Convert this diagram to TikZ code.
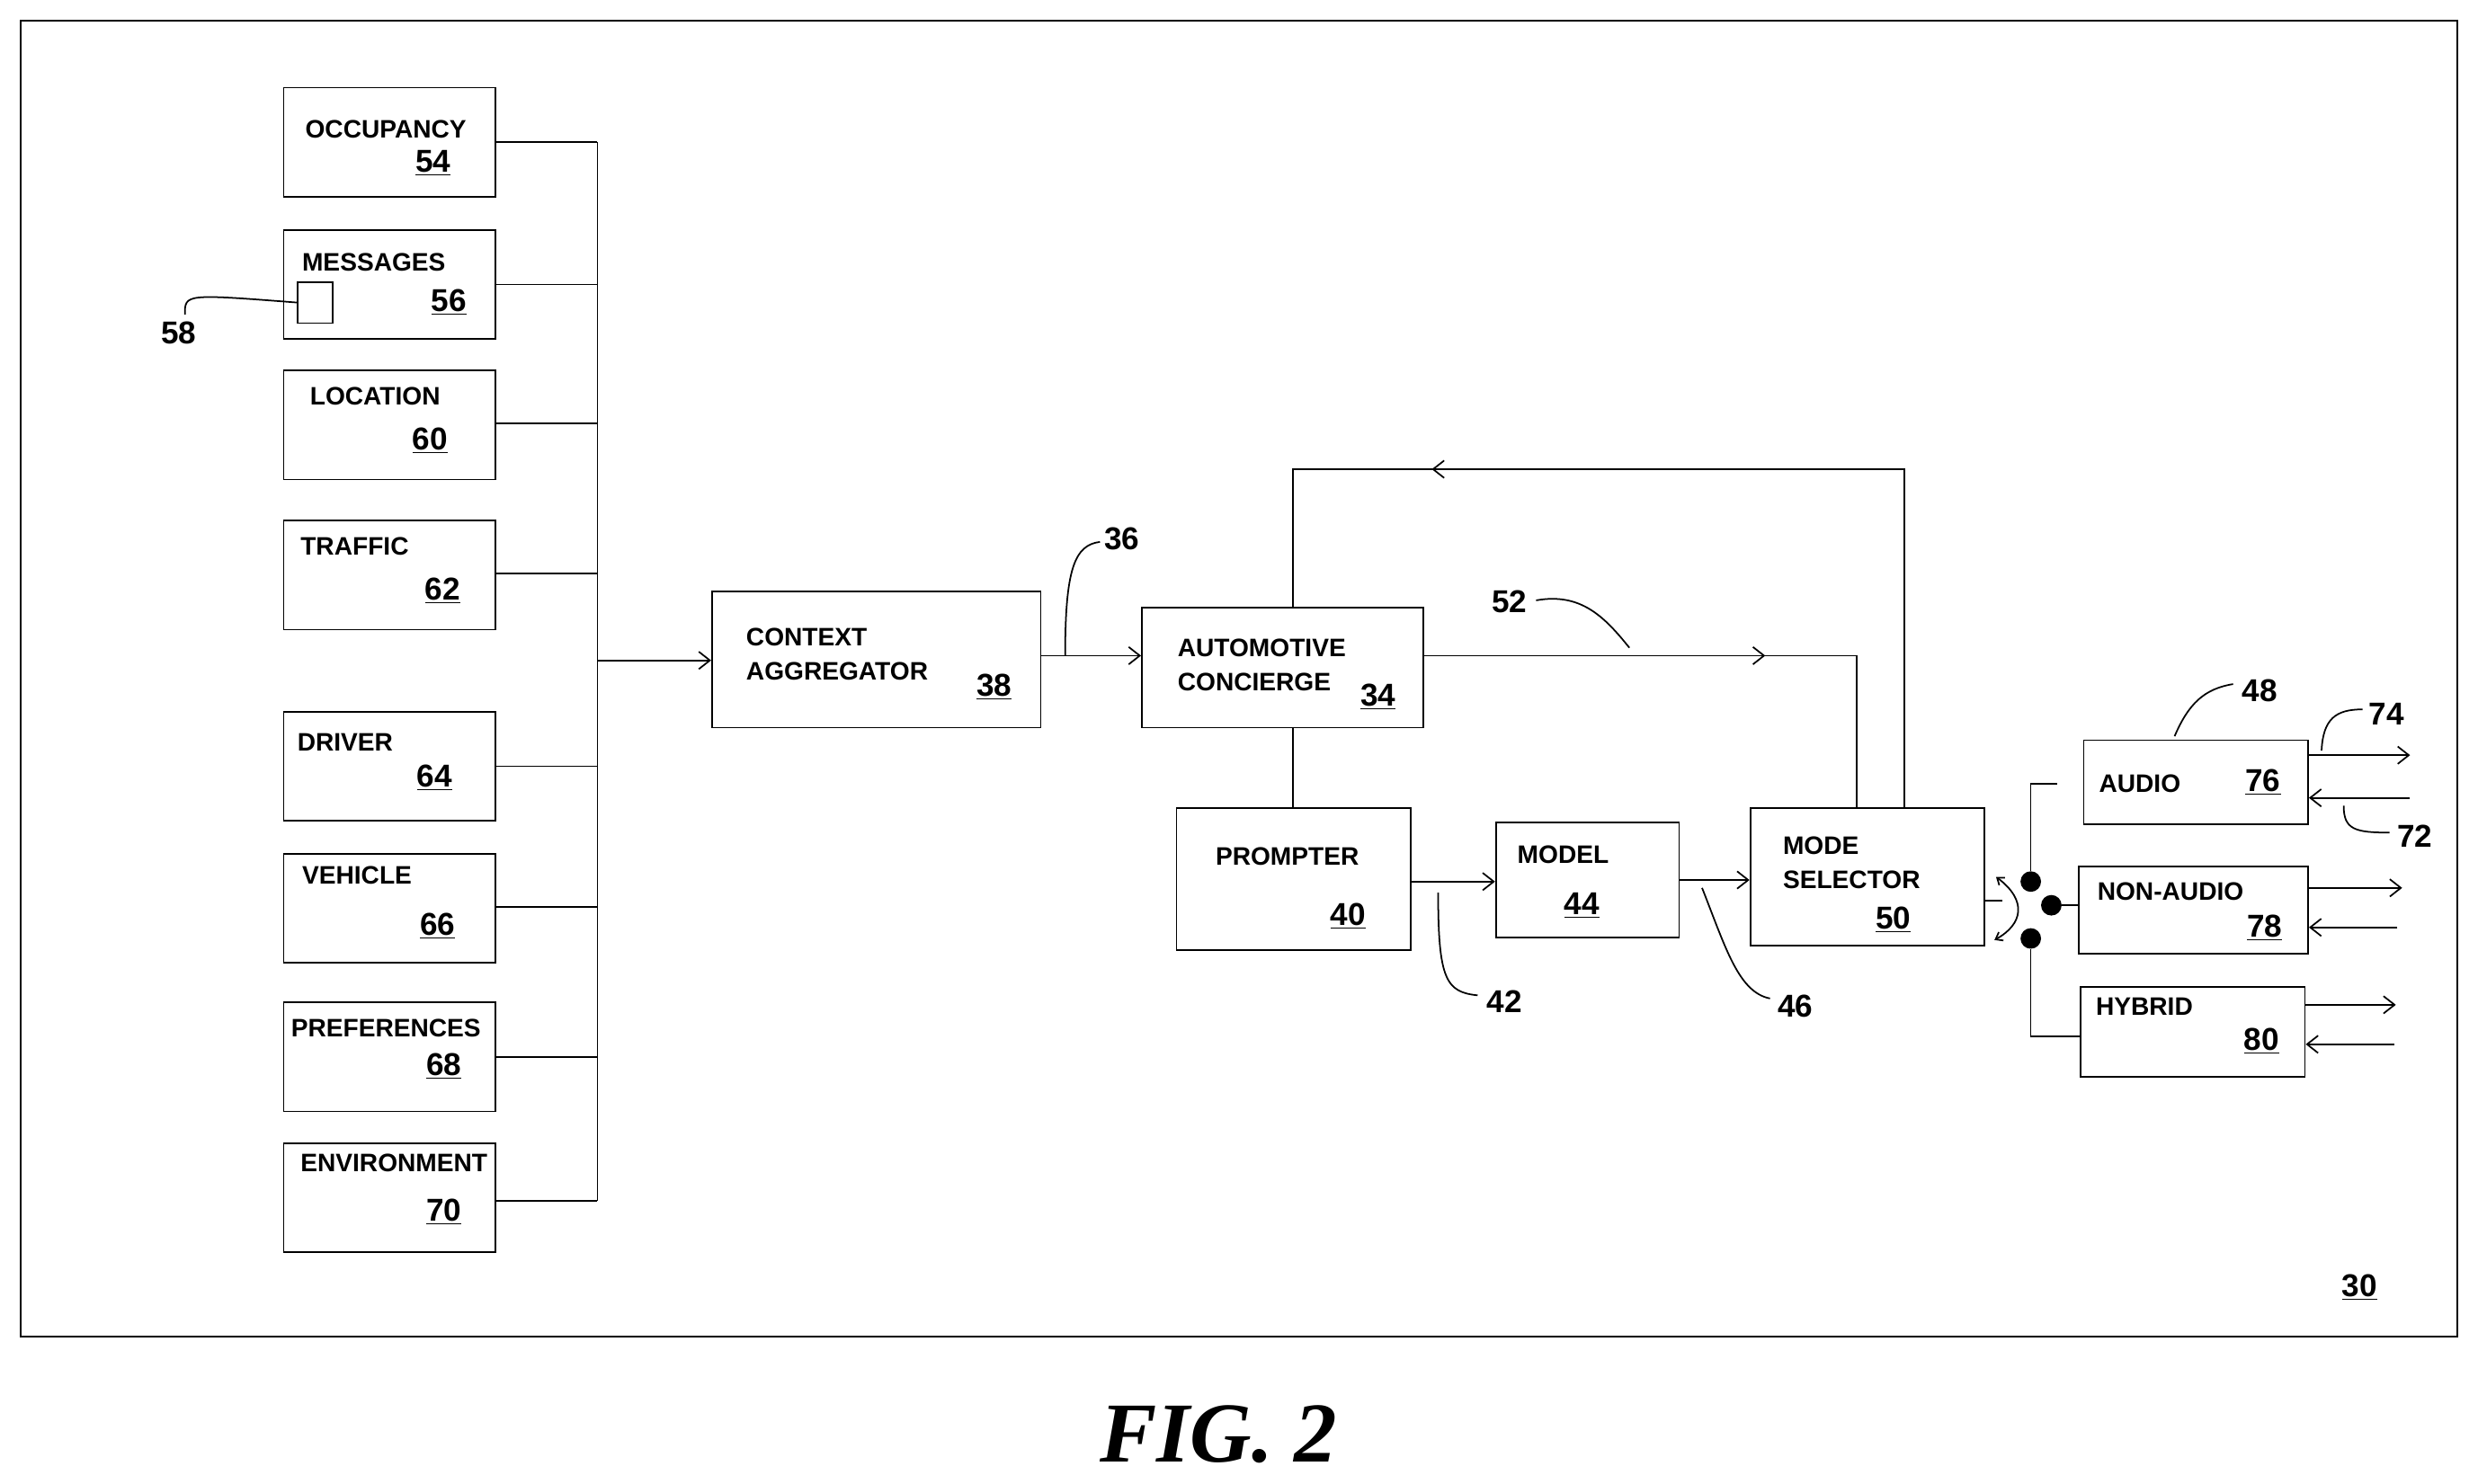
\documentclass[tikz,border=0pt]{standalone}
\usepackage{fontspec}
\setmainfont{Liberation Sans}
\newfontfamily\figfont{Liberation Serif}
\usetikzlibrary{arrows.meta}
\begin{document}
\begin{tikzpicture}[x=1pt,y=-1pt,
  box/.style={draw,line width=1pt},
  lbl/.style={anchor=west,inner sep=0,font=\fontsize{16}{18}\selectfont\bfseries},
  num/.style={inner sep=0,font=\fontsize{20}{22}\selectfont\bfseries},
  ref/.style={inner sep=0,font=\fontsize{20}{22}\selectfont\bfseries},
  ln/.style={line width=1pt},
  ar/.style={ln,-{Straight Barb[length=7pt,width=11pt]}},
  dot/.style={circle,fill,inner sep=0,minimum size=13pt}]
\useasboundingbox (0,0) rectangle (1568,939.3);
\draw[line width=1.2pt] (13,13) rectangle (1555,846);
\newcommand{\blk}[5]{\node[box,minimum width=134pt,minimum height=69pt,anchor=north west] (#1) at (179,#2) {};
 \node[lbl] at (#3,#4) {#5};}
\blk{occ}{55}{193}{82}{OCCUPANCY}
\blk{msg}{145}{191}{166}{MESSAGES}
\blk{loc}{234}{196}{251}{LOCATION}
\blk{tra}{329}{190}{346}{TRAFFIC}
\blk{dri}{450}{188}{470}{DRIVER}
\blk{veh}{540}{191}{554}{VEHICLE}
\blk{pre}{634}{184}{651}{PREFERENCES}
\blk{env}{723}{190}{736}{ENVIRONMENT}
\node[num] at (274,103) {\underline{54}};
\node[num] at (284,191) {\underline{56}};
\node[num] at (272,279) {\underline{60}};
\node[num] at (280,374) {\underline{62}};
\node[num] at (275,492) {\underline{64}};
\node[num] at (277,586) {\underline{66}};
\node[num] at (281,675) {\underline{68}};
\node[num] at (281,767) {\underline{70}};
\node[box,minimum width=22pt,minimum height=26pt,anchor=north west,inner sep=0] (sq) at (188,178) {};
\node[ref] (r58) at (113,211) {58};
\draw[ln] (117,199) .. controls (117,186) .. (sq.west);
% bus
\coordinate (bt) at (378,90); \coordinate (bb) at (378,760);
\draw[ln] (bt) -- (bb);
\foreach \n/\y in {occ/90,msg/180,loc/268,tra/363,dri/485,veh/574,pre/669,env/760}
  \draw[ln] (\n.east |- 0,\y) -- (378,\y);
% context aggregator
\node[box,minimum width=208pt,minimum height=86pt,anchor=north west] (ca) at (450,374) {};
\node[lbl] at (472,403) {CONTEXT};
\node[lbl] at (472,425) {AGGREGATOR};
\node[num] at (629,435) {\underline{38}};
\draw[ar] (378,418) -- (ca.west |- 0,418);
% concierge
\node[box,minimum width=178pt,minimum height=76pt,anchor=north west] (ac) at (722,384) {};
\node[lbl] at (745,410) {AUTOMOTIVE};
\node[lbl] at (745,432) {CONCIERGE};
\node[num] at (872,441) {\underline{34}};
\draw[ar] (ca.east |- 0,415) -- (ac.west |- 0,415);
\node[ref] at (710,341) {36};
\draw[ln] (674,415) .. controls (674,360) and (680,345) .. (696,343);
% prompter
\node[box,minimum width=148pt,minimum height=90pt,anchor=north west] (pr) at (744,511) {};
\node[lbl] at (769,542) {PROMPTER};
\node[num] at (853,580) {\underline{40}};
\draw[ln] (818,460) -- (818,511);
% model
\node[box,minimum width=116pt,minimum height=73pt,anchor=north west] (mo) at (946,520) {};
\node[lbl] at (960,541) {MODEL};
\node[num] at (1001,573) {\underline{44}};
\draw[ar] (pr.east |- 0,558) -- (mo.west |- 0,558);
\node[ref] at (952,634) {42};
\draw[ln] (910,565) .. controls (910,620) and (915,628) .. (935,630);
% mode selector
\node[box,minimum width=148pt,minimum height=87pt,anchor=north west] (ms) at (1107,511) {};
\node[lbl] at (1128,535) {MODE};
\node[lbl] at (1128,557) {SELECTOR};
\node[num] at (1198,582) {\underline{50}};
\draw[ar] (mo.east |- 0,557) -- (ms.west |- 0,557);
\node[ref] at (1136,637) {46};
\draw[ln] (1077,562) .. controls (1092,600) and (1100,628) .. (1120,632);
% feedback
\draw[ln] (1205,511) -- (1205,297) -- (818,297) -- (818,384);
\draw[ln,-{Straight Barb[length=7pt,width=11pt]}] (920,297) -- (906,297);
\draw[ln] (900,415) -- (1175,415) -- (1175,511);
\draw[ln,-{Straight Barb[length=7pt,width=11pt]}] (1100,415) -- (1117,415);
\node[ref] at (955,381) {52};
\draw[ln] (972,380) .. controls (1000,375) and (1015,390) .. (1031,410);
% outputs
\node[box,minimum width=142pt,minimum height=53pt,anchor=north west] (au) at (1318,468) {};
\node[lbl] at (1328,496) {AUDIO};
\node[num] at (1432,495) {\underline{76}};
\node[box,minimum width=145pt,minimum height=55pt,anchor=north west] (na) at (1315,548) {};
\node[lbl] at (1327,564) {NON-AUDIO};
\node[num] at (1433,587) {\underline{78}};
\node[box,minimum width=142pt,minimum height=57pt,anchor=north west] (hy) at (1316,624) {};
\node[lbl] at (1326,637) {HYBRID};
\node[num] at (1431,659) {\underline{80}};
\node[ref] at (1430,437) {48};
\draw[ln] (1376,466) .. controls (1385,445) and (1395,436) .. (1413,433);
\draw[ar] (au.east |- 0,478) -- (1525,478);
\draw[ar] (1525,505) -- (au.east |- 0,505);
\draw[ar] (na.east |- 0,562) -- (1520,562);
\draw[ar] (1517,587) -- (na.east |- 0,587);
\draw[ar] (hy.east |- 0,636) -- (1516,636);
\draw[ar] (1515,661) -- (hy.east |- 0,661);
\node[ref] at (1510,452) {74};
\draw[ln] (1469,475) .. controls (1470,455) and (1478,449) .. (1495,449);
\node[ref] at (1528,529) {72};
\draw[ln] (1483,510) .. controls (1483,525) and (1490,527) .. (1512,527);
% switch
\node[dot] (d1) at (1285,558) {};
\node[dot] (d2) at (1298,573) {};
\node[dot] (d3) at (1285,594) {};
\draw[ln] (ms.east |- 0,570) -- (1267,570);
\draw[ln,{Straight Barb[length=4pt,width=6pt]}-{Straight Barb[length=4pt,width=6pt]}] (1263,555) .. controls (1283,570) and (1280,585) .. (1262,595);
\draw[ln] (d1) -- (1285,496) -- (1302,496);
\draw[ln] (d2) -- (na.west |- d2);
\draw[ln] (d3) -- (1285,656) -- (hy.west |- 0,656);
\node[num] at (1493,815) {\underline{30}};
\node[inner sep=0,font=\figfont\fontsize{54}{60}\selectfont\bfseries\itshape] at (771,908) {FIG. 2};
\end{tikzpicture}
\end{document}
